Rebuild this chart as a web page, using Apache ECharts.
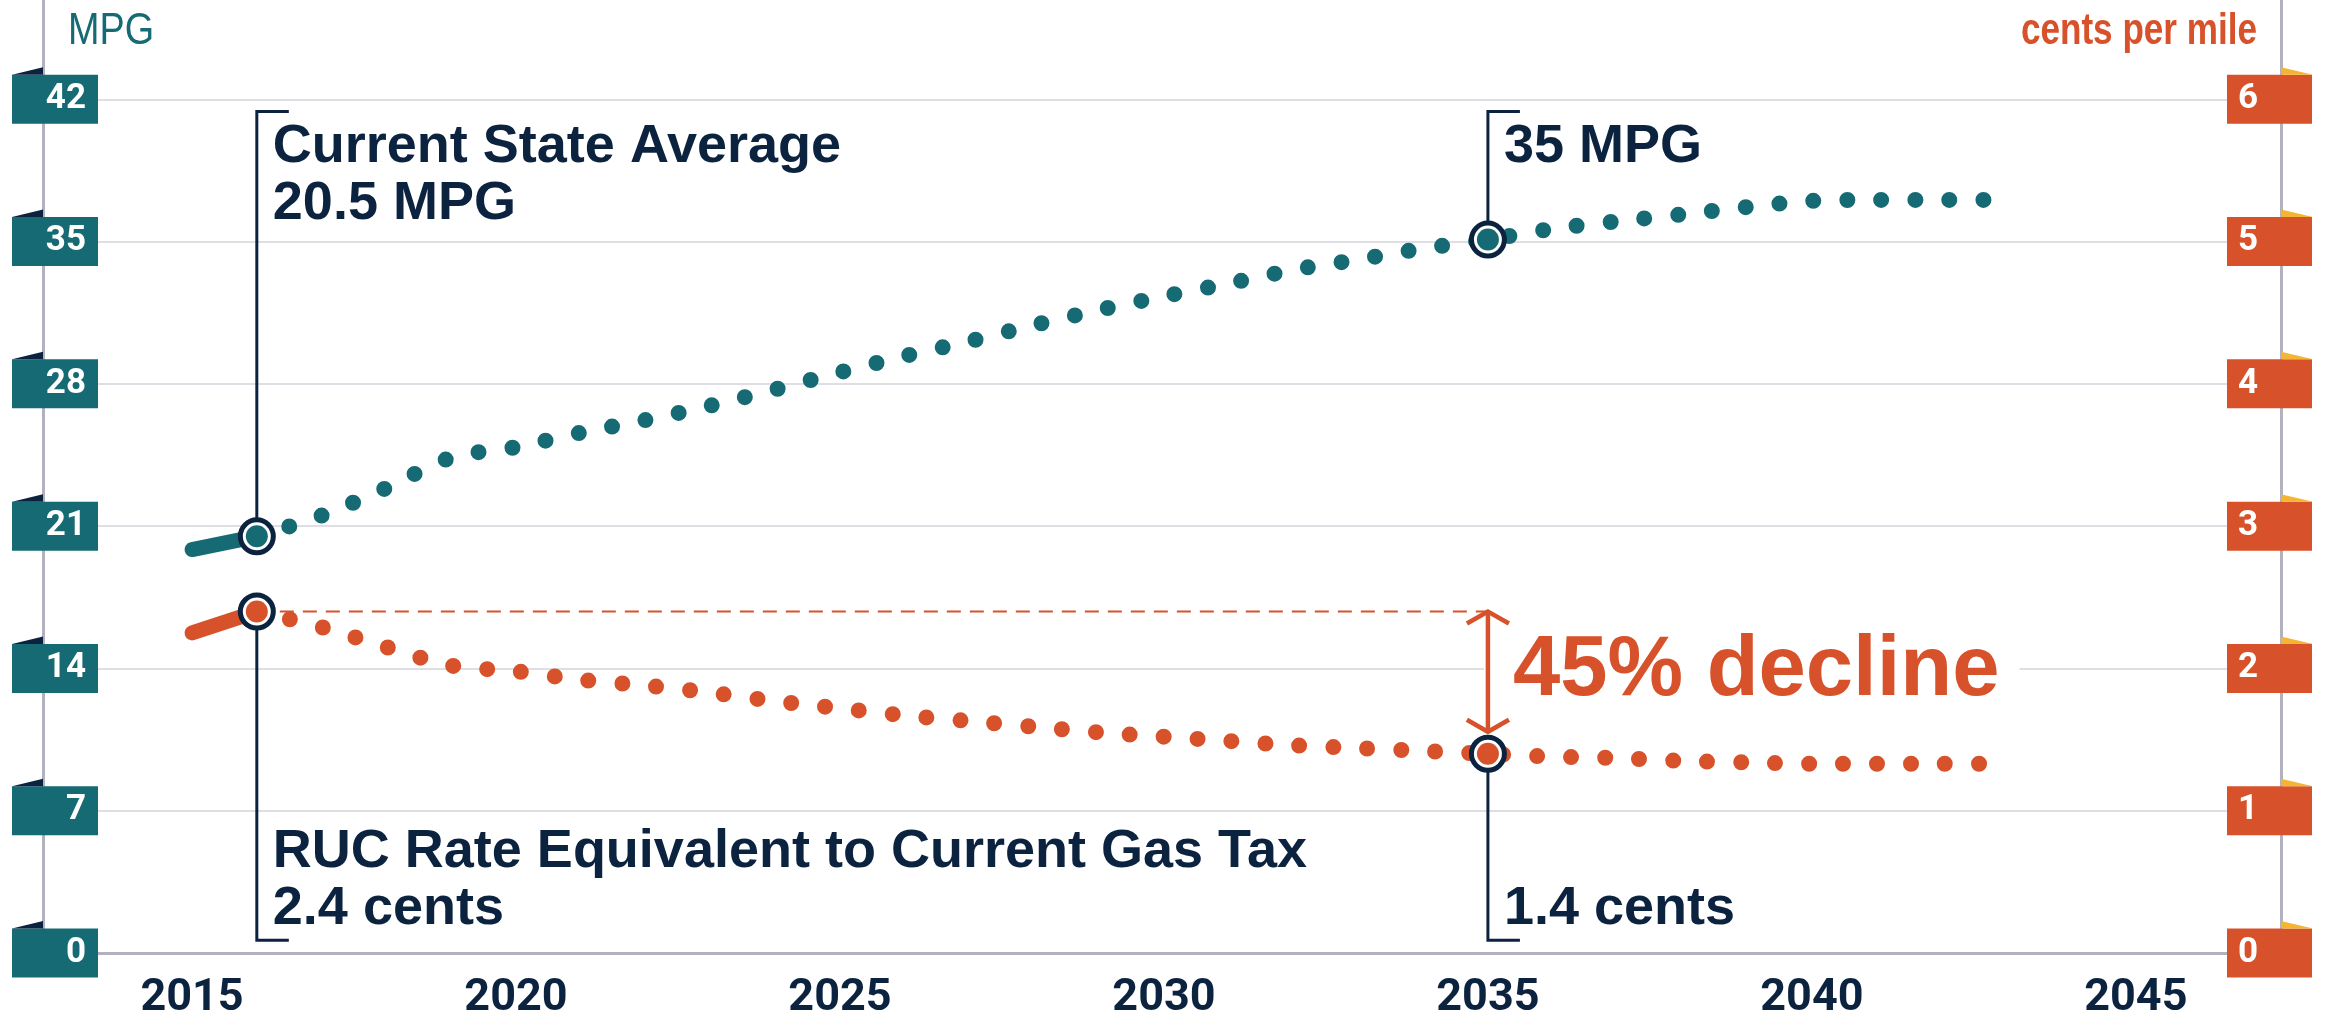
<!DOCTYPE html>
<html><head><meta charset="utf-8">
<script src="https://cdn.jsdelivr.net/npm/echarts@6/dist/echarts.min.js"></script>
<style>html,body{margin:0;padding:0;background:#fff}#c{width:2325px;height:1021px}</style>
</head><body><div id="c"></div>
<script>
// ---- data ----
const years = [2015,2016,2017,2018,2019,2020,2021,2022,2023,2024,2025,2026,2027,2028,2029,2030,2031,2032,2033,2034,2035,2036,2037,2038,2039,2040,2041,2042,2043];
const mpg   = [19.85,20.5,21.52,22.88,24.37,24.89,25.6,26.22,26.93,27.73,28.57,29.37,30.1,30.9,31.64,32.31,32.94,33.61,34.12,34.66,35.1,35.63,36.0,36.34,36.7,37.0,37.05,37.05,37.05];
const cents = [2.25,2.40,2.29,2.15,2.02,1.98,1.92,1.88,1.83,1.77,1.72,1.67,1.63,1.59,1.55,1.52,1.49,1.46,1.44,1.42,1.40,1.38,1.37,1.35,1.34,1.33,1.33,1.33,1.33];
const mpgTicks   = [0,7,14,21,28,35,42];
const centsTicks = [0,1,2,3,4,5,6];
const yearTicks  = [2015,2020,2025,2030,2035,2040,2045];
const keyYears   = [2016,2035];
const mpgNotes   = ['Current State Average\n20.5 MPG','35 MPG'];
const centsNotes = ['RUC Rate Equivalent to Current Gas Tax\n2.4 cents','1.4 cents'];
const declineText = '45% decline';
const leftTitle = 'MPG', rightTitle = 'cents per mile';

// ---- styles ----
const TEAL='#156a74', ORANGE='#d7522a', NAVY='#0c2340', GRIDC='#dedee4', AXISC='#b1b1c0', FLAGY='#f4b535';
const X_MIN=2012.7, X_MAX=2047.24, MPG_MAX=46.886, CENTS_MAX=6.698;
const BRACKET_TOP_MPG=41.4, BRACKET_BOTTOM_CENTS=0.09;
const NUMFONT='Roboto';
const NOTEFONT='"Liberation Sans", Arial, sans-serif';

const histIdx = [0,1];
const proj = years.slice(1);
const keyIdx = keyYears.map(y=>years.indexOf(y));

const chart = echarts.init(document.getElementById('c'), null, {renderer:'canvas'});
const labelBase = {color:'#fff', fontFamily:NUMFONT, fontWeight:'bold', fontSize:35, width:62, height:33, lineHeight:33, verticalAlign:'middle'};
const option = {
  animation:false,
  backgroundColor:'#fff',
  grid:{left:43,right:44,top:0,bottom:66},
  xAxis:{type:'value', min:X_MIN, max:X_MAX,
    axisLine:{show:true,onZero:false,lineStyle:{color:AXISC,width:3}},
    axisTick:{show:false}, splitLine:{show:false},
    axisLabel:{customValues:yearTicks, margin:23, color:NAVY, fontFamily:NUMFONT, fontWeight:'bold', fontSize:45, formatter:v=>String(Math.round(v))}},
  yAxis:[
    {type:'value', min:0, max:MPG_MAX, interval:7, position:'left',
     axisLine:{show:true,lineStyle:{color:AXISC,width:3}},
     axisTick:{show:false, customValues:mpgTicks},
     splitLine:{show:true,lineStyle:{color:GRIDC,width:2}},
     axisLabel:Object.assign({customValues:mpgTicks, margin:-55, align:'right', backgroundColor:TEAL, padding:[8,12,8,12]}, labelBase)},
    {type:'value', min:0, max:CENTS_MAX, interval:1, position:'right',
     axisLine:{show:true,lineStyle:{color:AXISC,width:3}},
     axisTick:{show:false, customValues:centsTicks},
     splitLine:{show:false},
     axisLabel:Object.assign({customValues:centsTicks, margin:-54, align:'left', backgroundColor:ORANGE, padding:[8,12,8,11]}, labelBase)}
  ],
  series:[
    {type:'line', yAxisIndex:0, data:histIdx.map(i=>[years[i],mpg[i]]), showSymbol:false, silent:true, z:3,
     lineStyle:{color:TEAL,width:15,cap:'round'}},
    {type:'line', yAxisIndex:0, data:proj.map((y,k)=>[y,mpg[k+1]]), showSymbol:false, silent:true, smooth:0.3, z:2,
     lineStyle:{color:TEAL,width:16,type:[0,34],cap:'round'}},
    {type:'line', yAxisIndex:1, data:histIdx.map(i=>[years[i],cents[i]]), showSymbol:false, silent:true, z:3,
     lineStyle:{color:ORANGE,width:15,cap:'round'}},
    {type:'line', yAxisIndex:1, data:proj.map((y,k)=>[y,cents[k+1]]), showSymbol:false, silent:true, smooth:0.3, z:2,
     lineStyle:{color:ORANGE,width:16,type:[0,34],cap:'round'}},
    {type:'line', yAxisIndex:1, data:[[keyYears[0],cents[keyIdx[0]]],[keyYears[1],cents[keyIdx[0]]]], showSymbol:false, silent:true, z:2,
     lineStyle:{color:ORANGE,width:2,type:[14,9]}},
    {type:'scatter', yAxisIndex:0, data:keyIdx.map(i=>[years[i],mpg[i]]), symbolSize:33, z:6, silent:true,
     itemStyle:{color:'#fff',borderColor:NAVY,borderWidth:5,opacity:1}},
    {type:'scatter', yAxisIndex:0, data:keyIdx.map(i=>[years[i],mpg[i]]), symbolSize:22, z:7, silent:true,
     itemStyle:{color:TEAL,opacity:1}},
    {type:'scatter', yAxisIndex:1, data:keyIdx.map(i=>[years[i],cents[i]]), symbolSize:33, z:6, silent:true,
     itemStyle:{color:'#fff',borderColor:NAVY,borderWidth:5,opacity:1}},
    {type:'scatter', yAxisIndex:1, data:keyIdx.map(i=>[years[i],cents[i]]), symbolSize:22, z:7, silent:true,
     itemStyle:{color:ORANGE,opacity:1}}
  ]
};
chart.setOption(option);

const toM=(x,y)=>chart.convertToPixel({xAxisIndex:0,yAxisIndex:0},[x,y]);
const toC=(x,y)=>chart.convertToPixel({xAxisIndex:0,yAxisIndex:1},[x,y]);
const g=[];
const xl=toM(X_MIN,0)[0], xr=toM(X_MAX,0)[0];
mpgTicks.forEach(t=>{const y=toM(X_MIN,t)[1];
  g.push({type:'polygon',z:10,silent:true,shape:{points:[[xl,y-32],[xl,y-24.5],[xl-31,y-24.5]]},style:{fill:NAVY}});});
centsTicks.forEach(t=>{const y=toC(X_MAX,t)[1];
  g.push({type:'polygon',z:10,silent:true,shape:{points:[[xr,y-32],[xr,y-24.5],[xr+32,y-24.5]]},style:{fill:FLAGY}});});

keyYears.forEach((yr,k)=>{
  const i=keyIdx[k];
  const [x,ym]=toM(yr,mpg[i]);
  const yt=toM(yr,BRACKET_TOP_MPG)[1];
  g.push({type:'polyline',z:4,silent:true,shape:{points:[[x+32,yt],[x,yt],[x,ym]]},style:{stroke:NAVY,lineWidth:3,fill:null}});
  g.push({type:'text',z:4,silent:true,x:x+16,y:yt+7,style:{text:mpgNotes[k],font:'bold 54px '+NOTEFONT,fill:NAVY,lineHeight:57,align:'left',verticalAlign:'top'}});
  const yc=toC(yr,cents[i])[1];
  const yb=toC(yr,BRACKET_BOTTOM_CENTS)[1];
  g.push({type:'polyline',z:4,silent:true,shape:{points:[[x,yc],[x,yb],[x+32,yb]]},style:{stroke:NAVY,lineWidth:3,fill:null}});
  g.push({type:'text',z:4,silent:true,x:x+16,y:yb-3,style:{text:centsNotes[k],font:'bold 54px '+NOTEFONT,fill:NAVY,lineHeight:57,align:'left',verticalAlign:'bottom'}});
});

// decline arrow
const [xa,ya1]=toC(keyYears[1],cents[keyIdx[0]]);
const ya2=toC(keyYears[1],cents[keyIdx[1]])[1]-22;
g.push({type:'text',z:3,silent:true,x:xa-4,y:(ya1+ya2)/2,style:{text:declineText,font:'bold 85px '+NOTEFONT,fill:ORANGE,backgroundColor:'#fff',padding:[0,20,0,29],align:'left',verticalAlign:'middle'}});
g.push({type:'line',z:5,silent:true,shape:{x1:xa,y1:ya1+1,x2:xa,y2:ya2-1},style:{stroke:ORANGE,lineWidth:4.5}});
g.push({type:'polyline',z:5,silent:true,shape:{points:[[xa-21,ya1+12],[xa,ya1],[xa+21,ya1+12]]},style:{stroke:ORANGE,lineWidth:4.5,fill:null}});
g.push({type:'polyline',z:5,silent:true,shape:{points:[[xa-21,ya2-12],[xa,ya2],[xa+21,ya2-12]]},style:{stroke:ORANGE,lineWidth:4.5,fill:null}});

// axis titles (Liberation Sans compressed horizontally to mimic a narrow face)
g.push({type:'text',z:4,silent:true,x:68,y:9,scaleX:0.84,style:{text:leftTitle,font:'45px "Liberation Sans", sans-serif',fill:TEAL,lineHeight:45,align:'left',verticalAlign:'top'}});
g.push({type:'text',z:4,silent:true,x:2257,y:9,scaleX:0.78,style:{text:rightTitle,font:'bold 45px "Liberation Sans", sans-serif',fill:ORANGE,lineHeight:45,align:'right',verticalAlign:'top'}});

chart.setOption({graphic:g});
</script></body></html>
